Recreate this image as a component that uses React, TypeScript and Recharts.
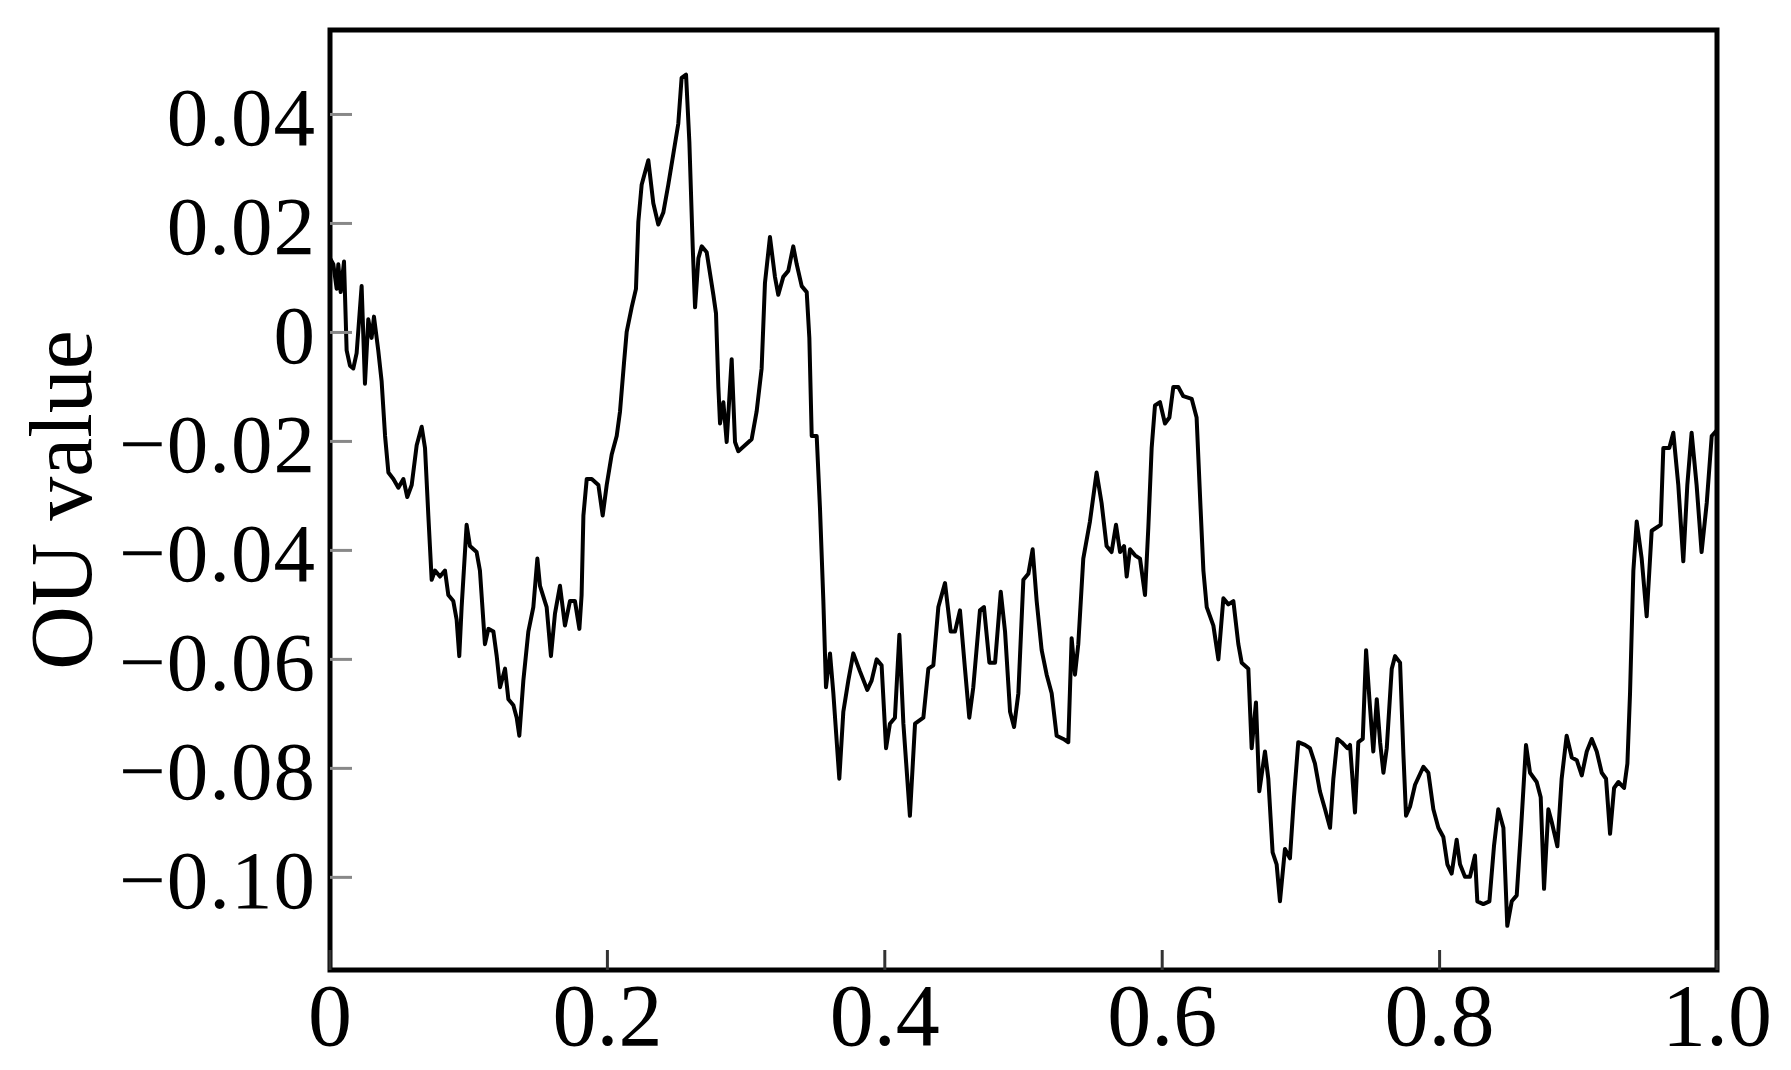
import { LineChart, Line, XAxis, YAxis, ReferenceArea } from 'recharts';

// ─── Data (t, OU value), in order along t ────────────────────────────────────
const SEG_A: [number, number][] = [
  [0, 0.0136], [0.0024, 0.0125], [0.0048, 0.008], [0.006, 0.0125], [0.0077, 0.0074],
  [0.0101, 0.013], [0.012, -0.0033], [0.0144, -0.0061], [0.0168, -0.0066], [0.0192, -0.0038],
  [0.0228, 0.0085], [0.0252, -0.0094], [0.0276, 0.0024], [0.03, -0.001], [0.0317, 0.0029],
  [0.0348, -0.0033], [0.0372, -0.0089], [0.0397, -0.019], [0.0421, -0.0257], [0.0457, -0.0269],
  [0.0493, -0.0285], [0.0529, -0.0269], [0.0557, -0.0302], [0.0589, -0.028], [0.0625, -0.0207],
  [0.0661, -0.0173], [0.0685, -0.0212], [0.0709, -0.0336], [0.0733, -0.0454], [0.0757, -0.0437],
  [0.0793, -0.0448], [0.0829, -0.0437], [0.0853, -0.0482], [0.0889, -0.0493], [0.0913, -0.0527],
  [0.0932, -0.0594], [0.0949, -0.0504], [0.0985, -0.0353], [0.1009, -0.0392], [0.1057, -0.0403],
  [0.1081, -0.0437], [0.1117, -0.0572], [0.1142, -0.0544], [0.1178, -0.0549], [0.1202, -0.0594],
  [0.1226, -0.0651], [0.1262, -0.0617], [0.1286, -0.0673], [0.1322, -0.0684], [0.1346, -0.0707],
  [0.1365, -0.074], [0.1394, -0.0639], [0.143, -0.0549], [0.1466, -0.0504], [0.1495, -0.0415],
  [0.1514, -0.0465], [0.1562, -0.0504], [0.1593, -0.0594], [0.1622, -0.0516], [0.1658, -0.0465],
  [0.1694, -0.0538], [0.173, -0.0493],
];

const SEG_B: [number, number][] = [
  [0.1766, -0.0493], [0.1798, -0.0544], [0.1814, -0.0482], [0.1827, -0.0336], [0.1851, -0.0269],
  [0.1887, -0.0269], [0.1935, -0.028], [0.1966, -0.0336], [0.1995, -0.028], [0.2031, -0.0224],
  [0.2067, -0.019], [0.2091, -0.0145], [0.212, -0.0055], [0.2139, 0.0001], [0.2175, 0.0046],
  [0.2206, 0.008], [0.2223, 0.0203], [0.2247, 0.0271], [0.2295, 0.0316], [0.2331, 0.0237],
  [0.2367, 0.0198], [0.2403, 0.022], [0.2439, 0.0271], [0.2475, 0.0327], [0.2511, 0.0383],
  [0.2535, 0.0467], [0.2567, 0.0473], [0.2591, 0.0349], [0.2615, 0.0158], [0.2632, 0.0046],
  [0.2656, 0.0136], [0.268, 0.0158], [0.2716, 0.0147], [0.2764, 0.0069], [0.2783, 0.0035],
  [0.28, -0.01], [0.2812, -0.0167], [0.2836, -0.0128], [0.286, -0.0201], [0.2896, -0.0049],
  [0.292, -0.0201], [0.2944, -0.0218], [0.2992, -0.0207], [0.304, -0.0196], [0.3076, -0.0145],
  [0.3112, -0.0066], [0.3136, 0.0091], [0.3172, 0.0175], [0.3208, 0.0102], [0.3232, 0.0069],
  [0.3268, 0.0102], [0.3304, 0.0113], [0.334, 0.0158],
];

const SEG_C: [number, number][] = [
  [0.3365, 0.0125], [0.3401, 0.0085], [0.3437, 0.0074], [0.3456, -0.001], [0.3473, -0.019],
  [0.3509, -0.019], [0.3533, -0.0325], [0.3557, -0.0493], [0.3576, -0.0651], [0.3605, -0.0589],
  [0.3629, -0.0662], [0.3672, -0.0819], [0.3701, -0.0696], [0.3737, -0.0639], [0.3773, -0.0589],
  [0.3821, -0.0622], [0.3874, -0.0656], [0.3905, -0.0639], [0.3941, -0.06], [0.3977, -0.0611],
  [0.4009, -0.0763], [0.4037, -0.0718], [0.4073, -0.0707], [0.4105, -0.0555], [0.4134, -0.0718],
  [0.4181, -0.0887], [0.4218, -0.0718], [0.4278, -0.0707], [0.4314, -0.0617], [0.435, -0.0611],
  [0.4386, -0.0504], [0.4434, -0.046], [0.4475, -0.0549], [0.4506, -0.0549], [0.4542, -0.051],
  [0.4578, -0.0617], [0.4609, -0.0707], [0.4638, -0.0651], [0.4686, -0.051], [0.4715, -0.0504],
  [0.4754, -0.0606], [0.4795, -0.0606], [0.4836, -0.0476], [0.4867, -0.0549], [0.4903, -0.0696],
  [0.4932, -0.0724], [0.4963, -0.0662],
];

const SEG_D: [number, number][] = [
  [0.4999, -0.0454], [0.5035, -0.0443], [0.5066, -0.0398], [0.5095, -0.0493], [0.5131, -0.0583],
  [0.5167, -0.0628], [0.5203, -0.0662], [0.5239, -0.074], [0.5287, -0.0746], [0.5323, -0.0752],
  [0.5347, -0.0561], [0.5371, -0.0628], [0.5395, -0.0572], [0.5431, -0.0415], [0.5479, -0.0347],
  [0.5527, -0.0257], [0.5563, -0.0313], [0.5599, -0.0392], [0.5635, -0.0403], [0.5667, -0.0353],
  [0.5696, -0.0403], [0.5725, -0.0392], [0.5744, -0.0448], [0.5768, -0.0398], [0.5804, -0.0409],
  [0.584, -0.0415], [0.5876, -0.0482], [0.59, -0.0358], [0.5924, -0.0212], [0.5948, -0.0134],
  [0.5984, -0.0128], [0.602, -0.0167], [0.6052, -0.0156], [0.608, -0.01], [0.6116, -0.01],
  [0.6152, -0.0117], [0.6213, -0.0122], [0.6248, -0.0156], [0.6273, -0.0302], [0.6297, -0.0437],
  [0.6321, -0.0504], [0.6369, -0.0538], [0.6405, -0.06], [0.6441, -0.0488], [0.6477, -0.0499],
  [0.6513, -0.0493], [0.6549, -0.0572], [0.6573, -0.0606], [0.6621, -0.0617], [0.6645, -0.0763],
  [0.6676, -0.0679], [0.67, -0.0842],
];

const SEG_E: [number, number][] = [
  [0.6741, -0.0769], [0.6765, -0.0819], [0.6796, -0.0954], [0.6825, -0.0976], [0.6849, -0.1044],
  [0.6885, -0.0948], [0.6921, -0.0965], [0.695, -0.0853], [0.6981, -0.0752], [0.7029, -0.0757],
  [0.7065, -0.0763], [0.7101, -0.0791], [0.7137, -0.0842], [0.7174, -0.0875], [0.721, -0.0909],
  [0.7234, -0.0819], [0.7263, -0.0746], [0.7294, -0.0752], [0.7335, -0.0763], [0.7354, -0.0757],
  [0.739, -0.0881], [0.7414, -0.0752], [0.7446, -0.0746], [0.747, -0.0583], [0.7494, -0.0673],
  [0.7522, -0.0769], [0.7547, -0.0673], [0.7571, -0.0752], [0.7595, -0.0808], [0.7619, -0.0763],
  [0.7655, -0.0617], [0.7679, -0.0594], [0.7715, -0.0606], [0.7739, -0.0774], [0.7758, -0.0887],
  [0.7787, -0.087], [0.7823, -0.083], [0.7883, -0.0797], [0.7919, -0.0808], [0.7955, -0.0875],
  [0.7991, -0.0909], [0.8027, -0.0926], [0.8056, -0.0976], [0.8087, -0.0993], [0.8123, -0.0931],
  [0.8147, -0.0976], [0.8183, -0.0999], [0.8219, -0.0999], [0.8255, -0.096], [0.8272, -0.1044],
  [0.8315, -0.1049], [0.8359, -0.1044],
];

const SEG_F: [number, number][] = [
  [0.8392, -0.0943], [0.8423, -0.0875], [0.846, -0.0909], [0.8488, -0.1089], [0.852, -0.1044],
  [0.8556, -0.1033], [0.8585, -0.092], [0.8623, -0.0757], [0.8652, -0.0808], [0.87, -0.0825],
  [0.8729, -0.0853], [0.8753, -0.1021], [0.8784, -0.0875], [0.8808, -0.0898], [0.8849, -0.0943],
  [0.888, -0.0819], [0.8916, -0.074], [0.8953, -0.078], [0.8989, -0.0785], [0.9025, -0.0813],
  [0.9061, -0.0769], [0.9097, -0.0746], [0.9133, -0.0769], [0.9169, -0.0808], [0.92, -0.0819],
  [0.9229, -0.092], [0.9258, -0.0836], [0.9289, -0.0825], [0.933, -0.0836], [0.9354, -0.0791],
  [0.9373, -0.0662], [0.9397, -0.0437], [0.9421, -0.0347], [0.9457, -0.0415], [0.9493, -0.0521],
  [0.9529, -0.0364], [0.9565, -0.0358], [0.9594, -0.0353], [0.9613, -0.0212], [0.9656, -0.0212],
  [0.9685, -0.0184], [0.9721, -0.028], [0.9757, -0.042], [0.9786, -0.028], [0.9817, -0.0184],
  [0.9853, -0.028], [0.9889, -0.0403], [0.9926, -0.0313], [0.9962, -0.019], [1.0, -0.0179],
];

const X_TICKS = [0, 0.2, 0.4, 0.6, 0.8, 1.0];
const X_TICK_LABELS = ['0', '0.2', '0.4', '0.6', '0.8', '1.0'];
const Y_TICKS = [0.04, 0.02, 0, -0.02, -0.04, -0.06, -0.08, -0.1];
const Y_TICK_LABELS = ['0.04', '0.02', '0', '\u22120.02', '\u22120.04', '\u22120.06', '\u22120.08', '\u22120.10'];
const Y_DOMAIN: [number, number] = [-0.117, 0.0555];
const Y_LABEL = 'OU value';

const data = [...SEG_A, ...SEG_B, ...SEG_C, ...SEG_D, ...SEG_E, ...SEG_F].map(([t, v]) => ({ t, v }));

// ─── Layout ───────────────────────────────────────────────────────────────────
const W = 1791;
const H = 1070;
const PLOT_LEFT = 330;
const PLOT_RIGHT = 1717;
const PLOT_TOP = 30;
const PLOT_BOTTOM = 970;
const FONT = '"Liberation Serif", "Times New Roman", serif';

function XTick({ x, payload }: any) {
  const i = X_TICKS.indexOf(payload.value);
  return (
    <g>
      <line x1={x} x2={x} y1={PLOT_BOTTOM} y2={PLOT_BOTTOM - 20} stroke="#333" strokeWidth={3} />
      <text x={x} y={PLOT_BOTTOM + 75} textAnchor="middle" fontSize={88} fontFamily={FONT} fill="#000">
        {X_TICK_LABELS[i]}
      </text>
    </g>
  );
}

function YTick({ y, payload }: any) {
  const i = Y_TICKS.indexOf(payload.value);
  return (
    <g>
      <line x1={PLOT_LEFT} x2={PLOT_LEFT + 22} y1={y} y2={y} stroke="#888" strokeWidth={3} />
      <text x={PLOT_LEFT - 14} y={y + 31} textAnchor="end" fontSize={83} fontFamily={FONT} fill="#000"
        letterSpacing={1}>
        {Y_TICK_LABELS[i]}
      </text>
    </g>
  );
}

function YLabel() {
  const cx = 91;
  const cy = (PLOT_TOP + PLOT_BOTTOM) / 2;
  return (
    <text x={cx} y={cy} transform={`rotate(-90, ${cx}, ${cy})`} textAnchor="middle"
      fontSize={88} fontFamily={FONT} fill="#000">
      {Y_LABEL}
    </text>
  );
}

export default function App() {
  return (
    <div style={{ width: W, height: H, background: '#fff' }}>
      <style>{'body{margin:0;background:#fff}'}</style>
      <LineChart
        width={W}
        height={H}
        data={data}
        margin={{ top: PLOT_TOP, right: W - PLOT_RIGHT, left: 0, bottom: 0 }}
      >
        <XAxis
          dataKey="t"
          type="number"
          domain={[0, 1]}
          ticks={X_TICKS}
          interval={0}
          tick={<XTick />}
          tickLine={false}
          axisLine={false}
          height={H - PLOT_BOTTOM}
        />
        <YAxis
          type="number"
          domain={Y_DOMAIN}
          ticks={Y_TICKS}
          interval={0}
          allowDataOverflow
          tick={<YTick />}
          tickLine={false}
          axisLine={false}
          width={PLOT_LEFT}
          label={<YLabel />}
        />
        <Line
          type="linear"
          dataKey="v"
          stroke="#000"
          strokeWidth={4}
          strokeLinejoin="round"
          dot={false}
          activeDot={false}
          isAnimationActive={false}
        />
        <ReferenceArea
          x1={0}
          x2={1}
          y1={Y_DOMAIN[0]}
          y2={Y_DOMAIN[1]}
          fill="none"
          fillOpacity={0}
          stroke="#000"
          strokeWidth={5}
          ifOverflow="visible"
        />
      </LineChart>
    </div>
  );
}
